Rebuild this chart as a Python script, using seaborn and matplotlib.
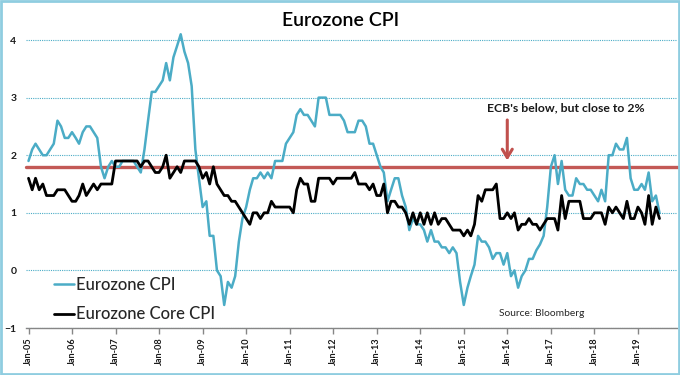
import numpy as np
import pandas as pd
import matplotlib
matplotlib.use("Agg")
import matplotlib.pyplot as plt
import matplotlib.dates as mdates
import seaborn as sns

# Monthly y/y rates, Jan-05 .. Jul-19
headline_cpi = [
    1.9, 2.1, 2.2, 2.1, 2.0, 2.0, 2.1, 2.2, 2.6, 2.5, 2.3, 2.3,   # 2005
    2.4, 2.3, 2.2, 2.4, 2.5, 2.5, 2.4, 2.3, 1.8, 1.6, 1.8, 1.9,   # 2006
    1.8, 1.8, 1.9, 1.9, 1.9, 1.9, 1.8, 1.7, 2.1, 2.6, 3.1, 3.1,   # 2007
    3.2, 3.3, 3.6, 3.3, 3.7, 3.9, 4.1, 3.8, 3.6, 3.2, 2.1, 1.6,   # 2008
    1.1, 1.2, 0.6, 0.6, 0.0, -0.1, -0.6, -0.2, -0.3, -0.1, 0.5, 0.9,  # 2009
    1.1, 1.4, 1.6, 1.6, 1.7, 1.6, 1.7, 1.6, 1.9, 1.9, 1.9, 2.2,   # 2010
    2.3, 2.4, 2.7, 2.8, 2.7, 2.7, 2.6, 2.5, 3.0, 3.0, 3.0, 2.7,   # 2011
    2.7, 2.7, 2.7, 2.6, 2.4, 2.4, 2.4, 2.6, 2.6, 2.5, 2.2, 2.2,   # 2012
    2.0, 1.8, 1.7, 1.2, 1.4, 1.6, 1.6, 1.3, 1.1, 0.7, 0.9, 0.8,   # 2013
    0.8, 0.7, 0.5, 0.7, 0.5, 0.5, 0.4, 0.4, 0.3, 0.4, 0.3, -0.2,  # 2014
    -0.6, -0.3, -0.1, 0.1, 0.6, 0.5, 0.5, 0.4, 0.2, 0.3, 0.3, 0.1,  # 2015
    0.3, -0.1, 0.0, -0.3, -0.1, 0.0, 0.2, 0.2, 0.35, 0.45, 0.6, 1.1,  # 2016
    1.8, 2.0, 1.5, 1.9, 1.4, 1.3, 1.3, 1.6, 1.5, 1.5, 1.4, 1.4,   # 2017
    1.3, 1.2, 1.4, 1.2, 2.0, 2.0, 2.2, 2.1, 2.1, 2.3, 1.6, 1.4,   # 2018
    1.4, 1.5, 1.4, 1.7, 1.2, 1.3, 1.0,                            # 2019
]
core_cpi = [
    1.6, 1.4, 1.6, 1.4, 1.5, 1.3, 1.3, 1.3, 1.4, 1.4, 1.4, 1.3,   # 2005
    1.2, 1.2, 1.3, 1.5, 1.3, 1.4, 1.5, 1.4, 1.5, 1.5, 1.5, 1.5,   # 2006
    1.9, 1.9, 1.9, 1.9, 1.9, 1.9, 1.9, 1.8, 1.9, 1.9, 1.8, 1.7,   # 2007
    1.7, 1.8, 2.0, 1.6, 1.7, 1.8, 1.7, 1.9, 1.9, 1.9, 1.9, 1.8,   # 2008
    1.6, 1.7, 1.5, 1.8, 1.5, 1.4, 1.3, 1.3, 1.2, 1.2, 1.1, 1.0,   # 2009
    0.9, 0.8, 1.0, 1.0, 0.9, 1.0, 1.0, 1.2, 1.1, 1.1, 1.1, 1.1,   # 2010
    1.1, 1.0, 1.4, 1.6, 1.5, 1.5, 1.2, 1.2, 1.6, 1.6, 1.6, 1.6,   # 2011
    1.5, 1.6, 1.6, 1.6, 1.6, 1.6, 1.7, 1.5, 1.5, 1.5, 1.4, 1.5,   # 2012
    1.3, 1.3, 1.5, 1.0, 1.2, 1.2, 1.1, 1.1, 1.0, 0.8, 1.0, 0.8,   # 2013
    1.0, 0.8, 1.0, 0.8, 1.0, 0.8, 0.9, 0.9, 0.8, 0.7, 0.7, 0.7,   # 2014
    0.6, 0.7, 0.6, 0.8, 1.3, 1.2, 1.4, 1.4, 1.4, 1.5, 0.9, 0.9,   # 2015
    1.0, 0.9, 1.0, 0.7, 0.8, 0.8, 0.9, 0.8, 0.8, 0.7, 0.8, 0.9,   # 2016
    0.9, 0.9, 0.7, 1.3, 0.9, 1.2, 1.2, 1.2, 1.2, 0.9, 0.9, 0.9,   # 2017
    1.0, 1.0, 1.0, 0.8, 1.1, 1.0, 1.1, 1.0, 0.9, 1.2, 0.9, 0.9,   # 2018
    1.1, 1.0, 0.8, 1.3, 0.8, 1.1, 0.9,                            # 2019
]
months = pd.date_range("2005-01-01", periods=len(headline_cpi), freq="MS")
ecb_line = 1.8

BLUE = "#4bacc6"
RED = "#c0504d"

sns.set_theme(style="white")
plt.rcParams["font.family"] = ["Lato", "DejaVu Sans"]

df = pd.DataFrame({"month": months, "cpi": headline_cpi, "core": core_cpi})

fig = plt.figure(figsize=(6.8, 3.75), dpi=100)
ax = fig.add_axes([26 / 680, 47 / 375, 651 / 680, 305.25 / 375])

sns.lineplot(data=df, x="month", y="cpi", color=BLUE, lw=1.8, label="Eurozone CPI", ax=ax)
sns.lineplot(data=df, x="month", y="core", color="black", lw=2.0, label="Eurozone Core CPI", ax=ax)

# ECB reference line
ax.axhline(ecb_line, xmin=0, xmax=1.01, color=RED, lw=2.4, alpha=0.95, clip_on=False, zorder=1)

ax.set_ylim(-1, 4.3)
ax.set_xlim(pd.Timestamp("2004-12-11"), pd.Timestamp("2019-11-25"))
ax.set_yticks(range(-1, 5))
ax.grid(axis="y", color=BLUE, linestyle=(0, (1, 1)), lw=0.8)
ax.set_axisbelow(True)

for s in ["top", "right", "left"]:
    ax.spines[s].set_visible(False)
ax.spines["bottom"].set_color("#868686")
ax.spines["bottom"].set_linewidth(1)

ax.xaxis.set_major_locator(mdates.YearLocator())
ax.xaxis.set_major_formatter(mdates.DateFormatter("%b-%y"))
ax.tick_params(axis="x", rotation=90, labelsize=6.6, length=4, width=1, color="#868686",
               direction="out", labelcolor="#1a1a1a", pad=3, bottom=True)
ax.tick_params(axis="y", labelsize=7.5, length=0, pad=7, labelcolor="#1a1a1a")
for lab in ax.get_xticklabels() + ax.get_yticklabels():
    lab.set_fontweight("bold")
ax.set_xlabel("")
ax.set_ylabel("")

# annotation
ax.annotate("", xy=(pd.Timestamp("2016-01-01"), 1.86), xytext=(pd.Timestamp("2016-01-01"), 2.66),
            arrowprops=dict(arrowstyle="->, head_width=0.3, head_length=0.5", color=RED, lw=2.2))
ax.text(pd.Timestamp("2017-05-05"), 2.82, "ECB's below, but close to 2%", ha="center", va="center",
        fontsize=8.8, fontweight="bold", color="#1a1a1a")

leg = ax.legend(loc="upper left", bbox_to_anchor=(54 / 680, 1 - 277 / 375), bbox_transform=fig.transFigure,
                frameon=False, fontsize=12, handlelength=1.2, handletextpad=0.1, labelspacing=0.8,
                borderpad=0, borderaxespad=0)
for t in leg.get_texts():
    t.set_fontweight("medium")

fig.text(341 / 680, 1 - 21 / 375, "Eurozone CPI", ha="center", va="center", fontsize=14,
         fontweight="semibold", color="black")
fig.text(499 / 680, 1 - 313 / 375, "Source: Bloomberg", ha="left", va="center", fontsize=7.4, color="#262626")

fig.patches.append(plt.Rectangle((0.0015, 0.0027), 0.997, 0.995, transform=fig.transFigure,
                                 fill=False, ec="#8fcde0", lw=2))

fig.savefig("out.png", dpi=100)
